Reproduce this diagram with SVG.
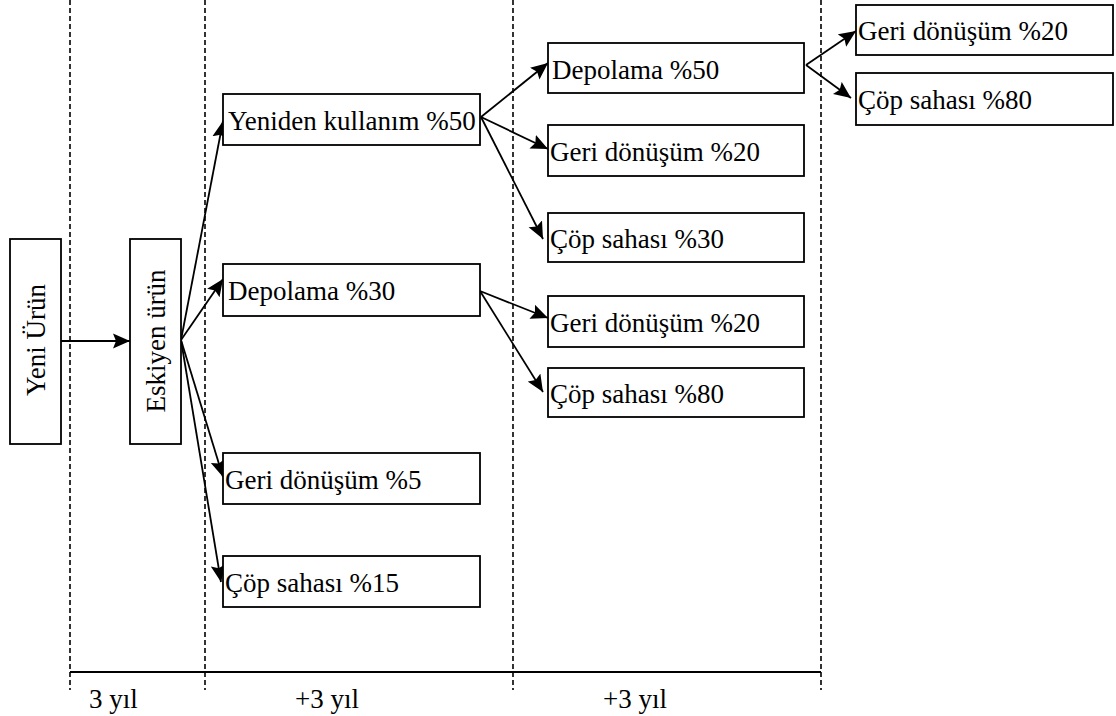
<svg xmlns="http://www.w3.org/2000/svg" width="1116" height="716" viewBox="0 0 1116 716">
  <style>
    .box { fill: #ffffff; stroke: #000000; stroke-width: 1.8; }
    .lbl { font-family: "Liberation Serif", "Times New Roman", serif; font-size: 27px; fill: #000000; }
    .edge { stroke: #000000; stroke-width: 1.8; fill: none; }
    .guide { stroke: #000000; stroke-width: 1.6; stroke-dasharray: 5 3; fill: none; }
    .axis { stroke: #000000; stroke-width: 1.8; fill: none; }
  </style>
  <defs>
    <!-- filled notched arrowhead, sized in user units -->
    <marker id="arrow" markerUnits="userSpaceOnUse" markerWidth="18" markerHeight="16" viewBox="0 0 18 16" refX="17" refY="8" orient="auto">
      <path d="M0,0.5 L17,8 L0,15.5 L3,8 z" fill="#000000"/>
    </marker>
  </defs>
  <rect width="1116" height="716" fill="#ffffff"/>

  <!-- time axis and period separators -->
  <g id="timeline">
    <line class="guide" x1="70" y1="0" x2="70" y2="690"/>
    <line class="guide" x1="205" y1="0" x2="205" y2="690"/>
    <line class="guide" x1="513" y1="0" x2="513" y2="690"/>
    <line class="guide" x1="821" y1="0" x2="821" y2="690"/>
    <line class="axis" x1="70" y1="672" x2="821" y2="672"/>
    <text class="lbl" x="89" y="708">3 yıl</text>
    <text class="lbl" x="295" y="708">+3 yıl</text>
    <text class="lbl" x="603" y="708">+3 yıl</text>
  </g>

  <g id="connectors">
    <line class="edge" marker-end="url(#arrow)" x1="61" y1="341" x2="130" y2="341"/>
    <line class="edge" marker-end="url(#arrow)" x1="181" y1="340" x2="223" y2="121"/>
    <line class="edge" marker-end="url(#arrow)" x1="181" y1="340" x2="223" y2="279"/>
    <line class="edge" marker-end="url(#arrow)" x1="181" y1="340" x2="223" y2="477"/>
    <line class="edge" marker-end="url(#arrow)" x1="181" y1="340" x2="221" y2="582"/>
    <line class="edge" marker-end="url(#arrow)" x1="481" y1="117" x2="548" y2="63"/>
    <line class="edge" marker-end="url(#arrow)" x1="481" y1="117" x2="548" y2="149"/>
    <line class="edge" marker-end="url(#arrow)" x1="481" y1="117" x2="543" y2="239"/>
    <line class="edge" marker-end="url(#arrow)" x1="480" y1="291" x2="548" y2="318"/>
    <line class="edge" marker-end="url(#arrow)" x1="480" y1="291" x2="543" y2="392"/>
    <line class="edge" marker-end="url(#arrow)" x1="806" y1="65" x2="856" y2="31"/>
    <line class="edge" marker-end="url(#arrow)" x1="806" y1="65" x2="851" y2="98"/>
  </g>

  <g id="yeni-urun">
    <rect class="box" x="10" y="239" width="51" height="205"/>
    <text class="lbl" transform="translate(45,340) rotate(-90)" text-anchor="middle">Yeni Ürün</text>
  </g>
  <g id="eskiyen-urun">
    <rect class="box" x="130" y="239" width="51" height="205"/>
    <text class="lbl" transform="translate(165,341) rotate(-90)" text-anchor="middle">Eskiyen ürün</text>
  </g>

  <g id="yeniden-kullanim">
    <rect class="box" x="223" y="94" width="257" height="51"/>
    <text class="lbl" x="228" y="130">Yeniden kullanım %50</text>
  </g>
  <g id="depolama-30">
    <rect class="box" x="223" y="264" width="257" height="52"/>
    <text class="lbl" x="228" y="300">Depolama %30</text>
  </g>
  <g id="geri-donusum-5">
    <rect class="box" x="223" y="453" width="257" height="51"/>
    <text class="lbl" x="225" y="489">Geri dönüşüm %5</text>
  </g>
  <g id="cop-sahasi-15">
    <rect class="box" x="223" y="556" width="257" height="51"/>
    <text class="lbl" x="225" y="592">Çöp sahası %15</text>
  </g>

  <g id="depolama-50">
    <rect class="box" x="548" y="43" width="256" height="50"/>
    <text class="lbl" x="552" y="79">Depolama %50</text>
  </g>
  <g id="geri-donusum-20-a">
    <rect class="box" x="548" y="125" width="256" height="51"/>
    <text class="lbl" x="550" y="161">Geri dönüşüm %20</text>
  </g>
  <g id="cop-sahasi-30">
    <rect class="box" x="548" y="213" width="256" height="49"/>
    <text class="lbl" x="550" y="248">Çöp sahası %30</text>
  </g>
  <g id="geri-donusum-20-b">
    <rect class="box" x="548" y="296" width="256" height="51"/>
    <text class="lbl" x="550" y="332">Geri dönüşüm %20</text>
  </g>
  <g id="cop-sahasi-80-a">
    <rect class="box" x="548" y="368" width="256" height="49"/>
    <text class="lbl" x="550" y="403">Çöp sahası %80</text>
  </g>

  <g id="geri-donusum-20-c">
    <rect class="box" x="856" y="5" width="257" height="50"/>
    <text class="lbl" x="858" y="40">Geri dönüşüm %20</text>
  </g>
  <g id="cop-sahasi-80-b">
    <rect class="box" x="856" y="73" width="257" height="52"/>
    <text class="lbl" x="858" y="109">Çöp sahası %80</text>
  </g>
</svg>
